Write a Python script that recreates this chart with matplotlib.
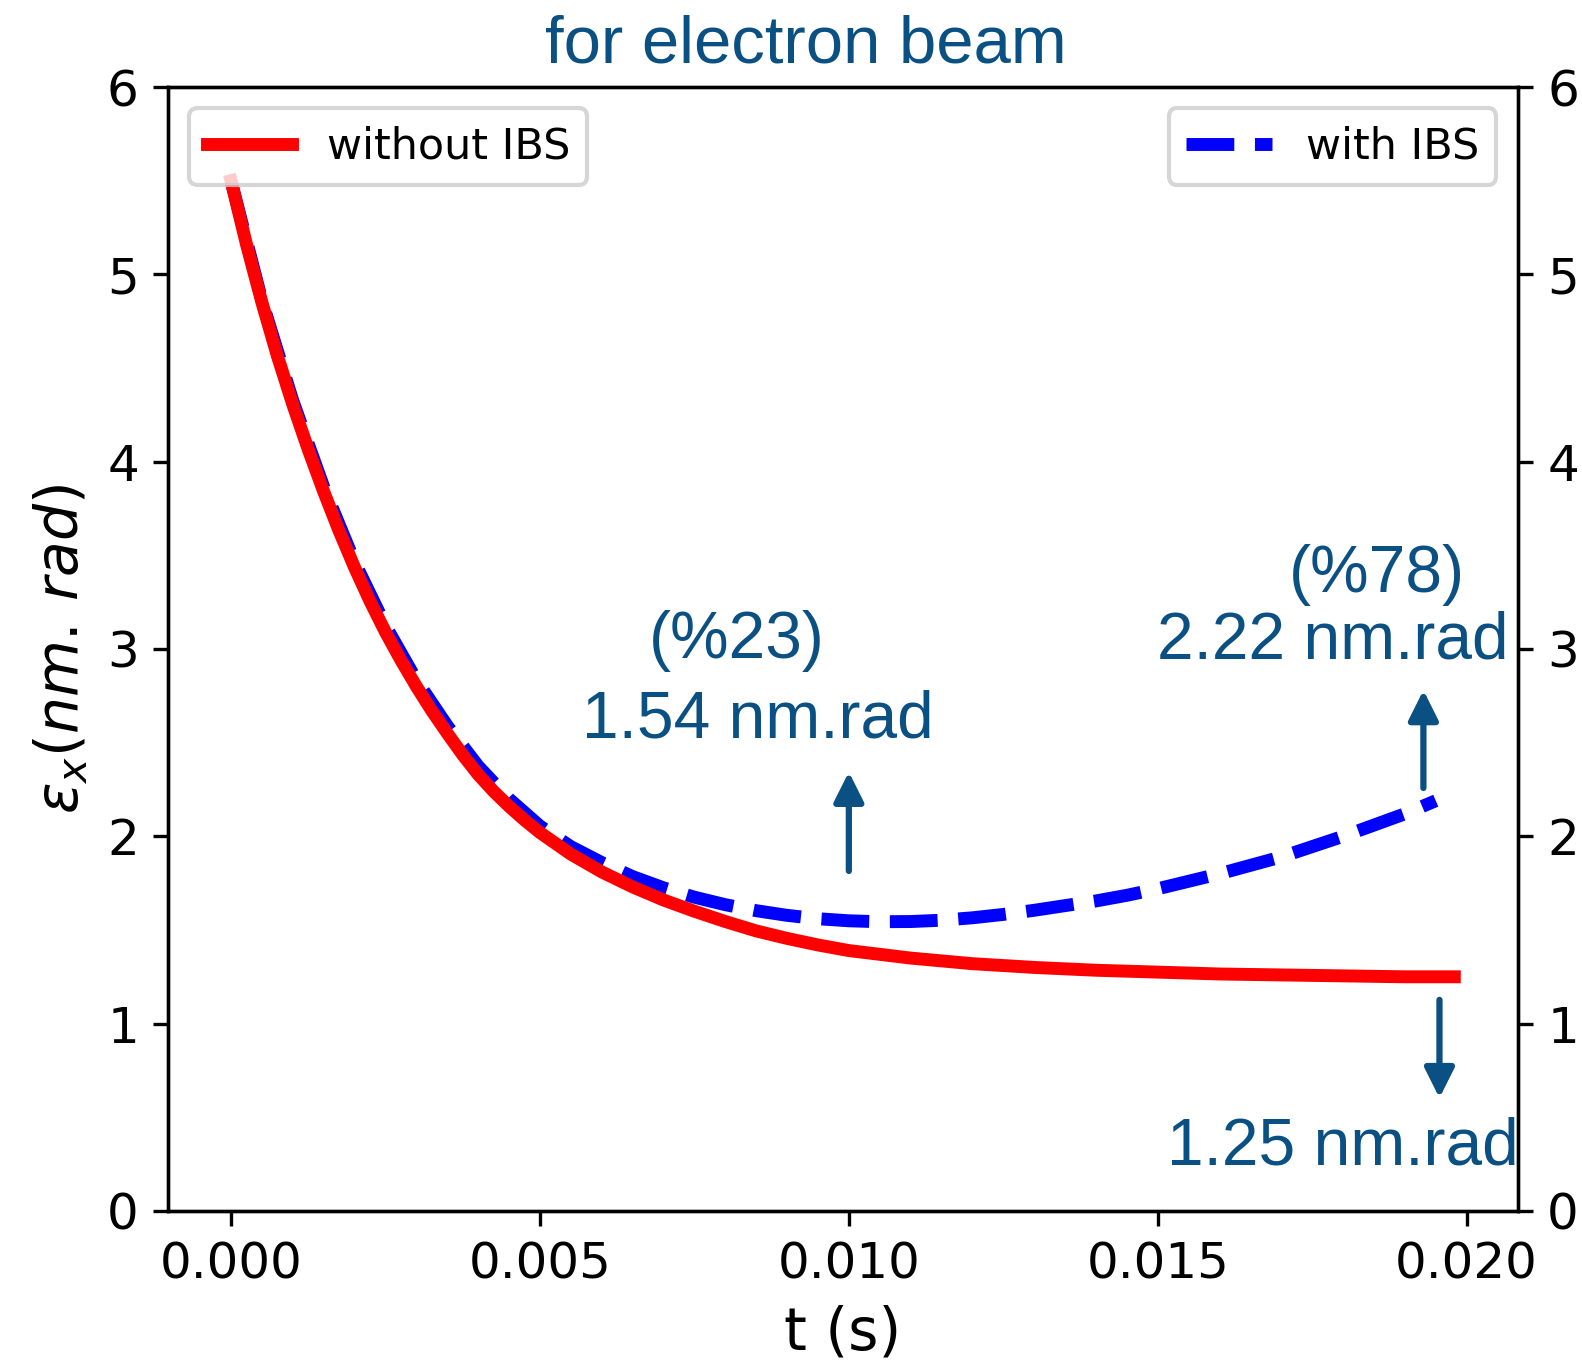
import matplotlib.pyplot as plt

# emittance vs time
t_red = [0.0, 0.00025, 0.0005, 0.00075, 0.001, 0.00125, 0.0015, 0.00175, 0.002,
         0.00225, 0.0025, 0.00275, 0.003, 0.00325, 0.0035, 0.00375, 0.004,
         0.00425, 0.0045, 0.00475, 0.005, 0.0055, 0.006, 0.0065, 0.007, 0.0075,
         0.008, 0.0085, 0.009, 0.0095, 0.010, 0.011, 0.012, 0.013, 0.014,
         0.015, 0.016, 0.017, 0.018, 0.019, 0.0198]
eps_no_ibs = [5.50, 5.16, 4.85, 4.565, 4.305, 4.065, 3.84, 3.63, 3.435,
              3.255, 3.09, 2.94, 2.80, 2.67, 2.55, 2.435, 2.33,
              2.24, 2.16, 2.087, 2.02, 1.905, 1.81, 1.73, 1.66, 1.60,
              1.545, 1.495, 1.455, 1.42, 1.39, 1.35, 1.32, 1.30, 1.285,
              1.275, 1.265, 1.26, 1.255, 1.25, 1.25]

t_blue = [0.0, 0.0005, 0.001, 0.0015, 0.002, 0.0025, 0.003, 0.0035, 0.004,
          0.0045, 0.005, 0.0055, 0.006, 0.0065, 0.007, 0.0075, 0.008, 0.0085,
          0.009, 0.0095, 0.010, 0.0105, 0.011, 0.0115, 0.012, 0.0125, 0.013,
          0.0135, 0.014, 0.0145, 0.015, 0.0155, 0.016, 0.0165, 0.017, 0.0175,
          0.018, 0.0185, 0.019, 0.0195]
eps_ibs = [5.50, 4.86, 4.325, 3.865, 3.465, 3.125, 2.835, 2.59, 2.375,
           2.20, 2.055, 1.945, 1.86, 1.785, 1.725, 1.675, 1.635, 1.603,
           1.578, 1.56, 1.549, 1.544, 1.545, 1.552, 1.565, 1.583, 1.605,
           1.63, 1.655, 1.685, 1.72, 1.76, 1.80, 1.845, 1.89, 1.945,
           2.00, 2.06, 2.12, 2.19]

note_color = '#0b5082'
note_font = 'Liberation Sans'

fig = plt.figure(figsize=(1582 / 300, 1366 / 300), dpi=300)
ax = fig.add_axes([0.1062, 0.1135, 0.8533, 0.8228])

ax.plot(t_blue, eps_ibs, color='blue', linestyle='--', linewidth=3.1, label='with IBS')
ax.set_xlim(-0.00102, 0.02083)
ax.set_ylim(0, 6)
ax.set_xticks([0.0, 0.005, 0.010, 0.015, 0.020])
ax.set_xticklabels(['0.000', '0.005', '0.010', '0.015', '0.020'])
ax.tick_params(labelsize=12)
ax.set_xlabel('t (s)', fontsize=14)
ax.set_ylabel(r'$\epsilon_x(nm.\,rad)$', fontsize=14)
ax.legend(loc='upper right', fontsize=10.3)

ax2 = ax.twinx()
ax2.plot(t_red, eps_no_ibs, color='red', linewidth=3.1, label='without IBS')
ax2.set_ylim(0, 6)
ax2.tick_params(labelsize=12)
ax2.legend(loc='upper left', fontsize=10.3)

# annotations
ax2.text(0.00818, 2.95, '(%23)', color=note_color, family=note_font, fontsize=15.8,
         ha='center', va='baseline')
ax2.text(0.00853, 2.525, '1.54 nm.rad', color=note_color, family=note_font, fontsize=15.8,
         ha='center', va='baseline')
ax2.text(0.01855, 3.305, '(%78)', color=note_color, family=note_font, fontsize=15.8,
         ha='center', va='baseline', clip_on=False)
ax2.text(0.01784, 2.95, '2.22 nm.rad', color=note_color, family=note_font, fontsize=15.8,
         ha='center', va='baseline', clip_on=False)
ax2.text(0.01799, 0.246, '1.25 nm.rad', color=note_color, family=note_font, fontsize=15.8,
         ha='center', va='baseline', clip_on=False)

arrow_props = dict(arrowstyle='-|>,head_length=0.4,head_width=0.2', mutation_scale=15,
                   lw=1.5, color=note_color, shrinkA=0, shrinkB=0)
ax2.annotate('', xy=(0.0100, 2.344), xytext=(0.0100, 1.815), arrowprops=arrow_props)
ax2.annotate('', xy=(0.0193, 2.78), xytext=(0.0193, 2.258), arrowprops=arrow_props)
ax2.annotate('', xy=(0.01956, 0.603), xytext=(0.01956, 1.127), arrowprops=arrow_props)

fig.text(0.5095, 0.9539, 'for electron beam', color=note_color, family=note_font,
         fontsize=16.1, ha='center', va='baseline')

plt.savefig('out.png', dpi=300)
